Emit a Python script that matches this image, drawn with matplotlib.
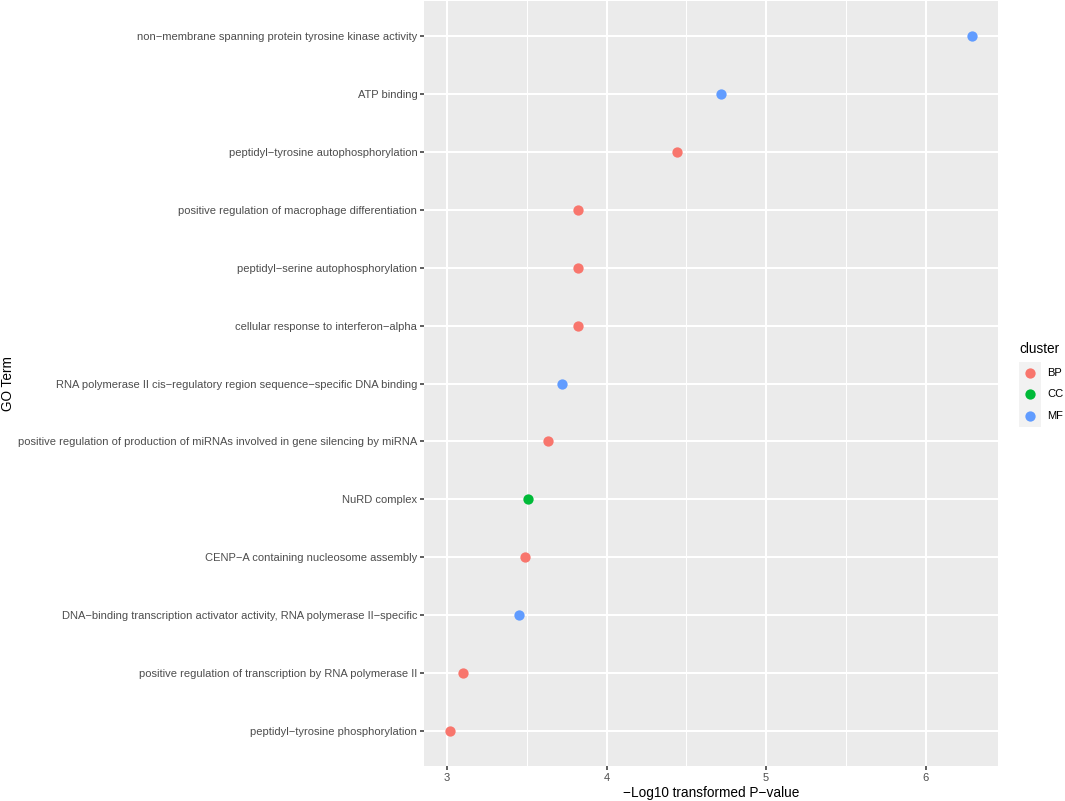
import matplotlib
matplotlib.use("Agg")
import matplotlib.pyplot as plt
import numpy as np

M = "\u2212"
terms = [
    "non" + M + "membrane spanning protein tyrosine kinase activity",
    "ATP binding",
    "peptidyl" + M + "tyrosine autophosphorylation",
    "positive regulation of macrophage differentiation",
    "peptidyl" + M + "serine autophosphorylation",
    "cellular response to interferon" + M + "alpha",
    "RNA polymerase II cis" + M + "regulatory region sequence" + M + "specific DNA binding",
    "positive regulation of production of miRNAs involved in gene silencing by miRNA",
    "NuRD complex",
    "CENP" + M + "A containing nucleosome assembly",
    "DNA" + M + "binding transcription activator activity, RNA polymerase II" + M + "specific",
    "positive regulation of transcription by RNA polymerase II",
    "peptidyl" + M + "tyrosine phosphorylation",
]
logp = [6.29, 4.72, 4.44, 3.82, 3.82, 3.82, 3.72, 3.635, 3.51, 3.49, 3.45, 3.10, 3.02]
cluster = ["MF", "MF", "BP", "BP", "BP", "BP", "MF", "BP", "CC", "BP", "MF", "BP", "BP"]

clusters = ["BP", "CC", "MF"]
colors = {"BP": "#F8766D", "CC": "#00BA38", "MF": "#619CFF"}

plt.rcParams["font.family"] = ["Liberation Sans", "DejaVu Sans"]

fig = plt.figure(figsize=(10.65, 8.01), dpi=100)
ax = fig.add_axes([424.3 / 1065, 35 / 801, (998.3 - 424.3) / 1065, (766 - 1) / 801])
ax.set_facecolor("#EBEBEB")

n = len(terms)
ypos = np.arange(n)[::-1]
for c in clusters:
    idx = [i for i in range(n) if cluster[i] == c]
    ax.scatter([logp[i] for i in idx], [ypos[i] for i in idx], s=55,
               color=colors[c], zorder=3, linewidths=0)

ax.set_xlim(2.858, 6.455)
ax.set_ylim(-0.6, n - 1 + 0.6)
ax.set_xticks([3, 4, 5, 6])
ax.set_xticks([3.5, 4.5, 5.5], minor=True)
ax.set_yticks(ypos)
ax.set_yticklabels(terms)
ax.grid(which="major", color="white", linewidth=1.5)
ax.grid(which="minor", axis="x", color="white", linewidth=0.75)
ax.set_axisbelow(True)
for s in ax.spines.values():
    s.set_visible(False)
ax.tick_params(which="major", length=3, width=1.1, color="#333333",
               labelcolor="#4D4D4D", labelsize=8.0, pad=2)
ax.tick_params(which="minor", length=0)
ax.set_xlabel(M + "Log10 transformed P" + M + "value", fontsize=9.8, labelpad=2)
ax.set_ylabel("GO Term", fontsize=9.8, va="center")
ax.yaxis.set_label_coords((8 - 424.3) / 574.0, 0.5)

# legend
lax = fig.add_axes([1019 / 1065, (801 - 426.7) / 801, 22 / 1065, 65 / 801])
lax.set_facecolor("#F2F2F2")
lax.set_xlim(0, 1)
lax.set_ylim(-0.5, 2.5)
for k, c in enumerate(clusters):
    lax.scatter([0.5], [2 - k], s=55, color=colors[c], linewidths=0)
    lax.text(1.3, 2 - k, c, fontsize=8.0, va="center", ha="left",
             transform=lax.transData, clip_on=False)
lax.set_xticks([])
lax.set_yticks([])
for s in lax.spines.values():
    s.set_visible(False)
fig.text(1019 / 1065, (801 - 349) / 801, "cluster", fontsize=9.8, va="center", ha="left")

fig.savefig("out.png", dpi=100)
